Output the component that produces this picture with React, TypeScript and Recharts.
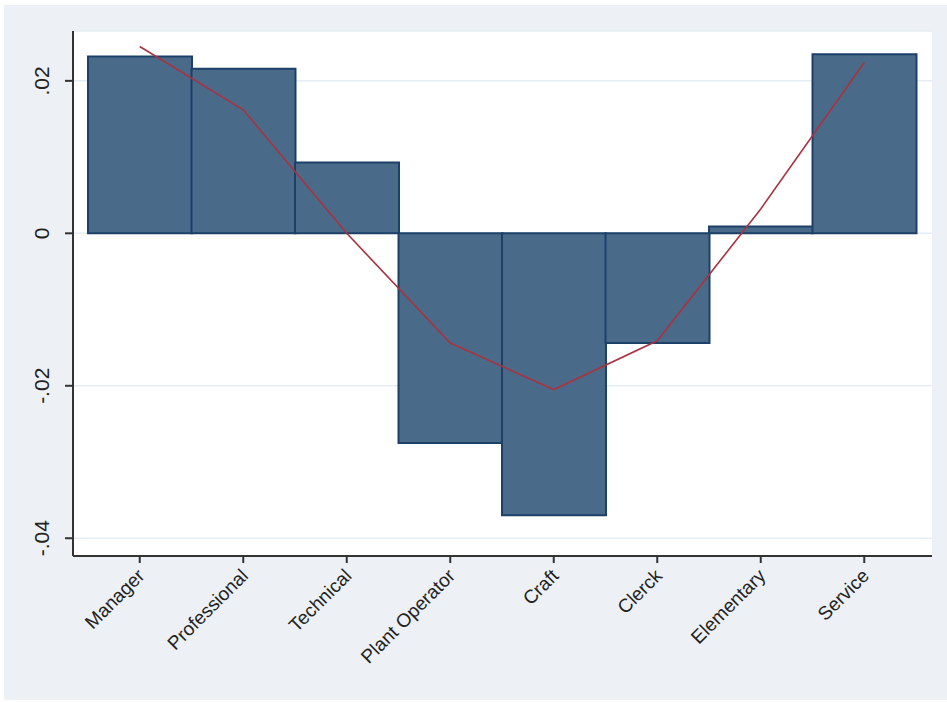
import React from "react";
import { ComposedChart, Bar, Line, XAxis, YAxis, CartesianGrid } from "recharts";

const categories = ["Manager", "Professional", "Technical", "Plant Operator", "Craft", "Clerck", "Elementary", "Service"];
const barValues = [0.0232, 0.0216, 0.0093, -0.0275, -0.037, -0.0144, 0.0009, 0.0235];
const lineValues = [0.0245, 0.0162, 0.0, -0.0144, -0.0205, -0.0141, 0.0032, 0.0224];
const yTicks = [-0.04, -0.02, 0, 0.02];
const yTickLabels = ["-.04", "-.02", "0", ".02"];

const data = categories.map((c, i) => ({ name: c, bar: barValues[i], line: lineValues[i] }));

const FONT = "'Liberation Sans', Arial, sans-serif";

const YTick = (props: any) => {
  const { x, y, payload } = props;
  const idx = yTicks.indexOf(payload.value);
  const label = idx >= 0 ? yTickLabels[idx] : String(payload.value);
  const cx = x - 14;
  return (
    <text
      x={cx}
      y={y}
      transform={`rotate(-90, ${cx}, ${y})`}
      textAnchor="middle"
      fontFamily={FONT}
      fontSize={21}
      fill="#222"
    >
      {label}
    </text>
  );
};

const XTick = (props: any) => {
  const { x, y, payload } = props;
  const tx = x + 6;
  const ty = y + 12;
  return (
    <text
      x={tx}
      y={ty}
      transform={`rotate(-45, ${tx}, ${ty})`}
      textAnchor="end"
      fontFamily={FONT}
      fontSize={19}
      fill="#222"
    >
      {payload.value}
    </text>
  );
};

export default function App() {
  return (
    <div style={{ position: "absolute", left: 0, top: 0, width: 947, height: 702, background: "#fff" }}>
      <div style={{ position: "absolute", left: 4, top: 5, width: 943, height: 695, background: "#EDF1F6" }} />
      <div style={{ position: "absolute", left: 0, top: 0 }}>
        <ComposedChart
          width={947}
          height={702}
          data={data}
          margin={{ top: 31, right: 15, bottom: 46, left: 13 }}
          barCategoryGap={0}
          barGap={0}
        >
          <CartesianGrid horizontal={true} vertical={false} fill="#ffffff" stroke="#E6ECF3" strokeWidth={1.5} />
          <XAxis
            dataKey="name"
            height={100}
            padding={{ left: 15, right: 16 }}
            interval={0}
            tick={<XTick />}
            tickSize={7}
            axisLine={{ stroke: "#333", strokeWidth: 2 }}
            tickLine={{ stroke: "#333", strokeWidth: 2 }}
          />
          <YAxis
            width={60}
            domain={[-0.04233, 0.02654]}
            ticks={yTicks}
            allowDataOverflow
            tick={<YTick />}
            tickSize={8}
            axisLine={{ stroke: "#333", strokeWidth: 2 }}
            tickLine={{ stroke: "#333", strokeWidth: 2 }}
          />
          <Bar dataKey="bar" fill="#4A6A89" stroke="#1C4068" strokeWidth={2} isAnimationActive={false} />
          <Line
            dataKey="line"
            type="linear"
            stroke="#A8333F"
            strokeWidth={1.6}
            dot={false}
            isAnimationActive={false}
          />
        </ComposedChart>
      </div>
    </div>
  );
}
